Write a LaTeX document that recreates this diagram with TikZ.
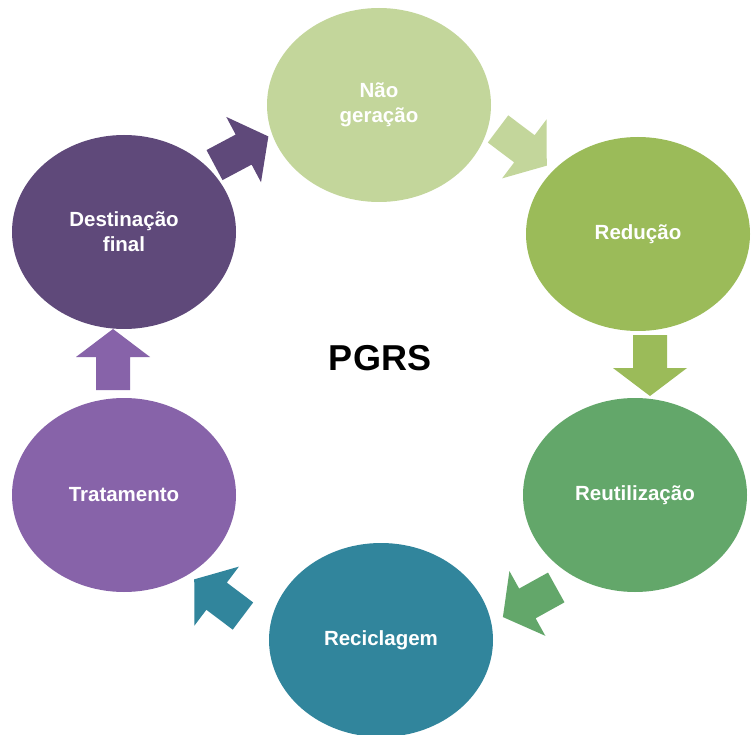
\documentclass[tikz,border=0pt]{standalone}
\usepackage{fontspec}
\setmainfont{Liberation Sans}
\usetikzlibrary{shapes.geometric}
\definecolor{cA}{HTML}{C3D69B}
\definecolor{cB}{HTML}{9BBB59}
\definecolor{cC}{HTML}{63A76A}
\definecolor{cD}{HTML}{31859C}
\definecolor{cE}{HTML}{8763A9}
\definecolor{cF}{HTML}{5F497A}
\tikzset{
  blob/.style={ellipse, minimum width=224pt, minimum height=194pt, inner sep=0pt,
    text=white, align=center, font=\fontsize{20.5}{25}\selectfont\bfseries},
  pics/blockarrow/.style={code={
    \fill[pic actions] (-30,-17) -- (3,-17) -- (3,-37) -- (31,0) -- (3,37) -- (3,17) -- (-30,17) -- cycle;}}
}
\begin{document}
\begin{tikzpicture}[x=1pt,y=-1pt]
\useasboundingbox (0,0) rectangle (755,735);
\fill[white] (0,0) rectangle (755,735);
\node[blob, fill=cA] (nao) at (379,105) {Não\\geração};
\node[blob, fill=cB] (red) at (638,234) {Redução};
\node[blob, fill=cC] (reu) at (635,495) {Reutilização};
\node[blob, fill=cD] (rec) at (381,640) {Reciclagem};
\node[blob, fill=cE] (tra) at (124,495) {Tratamento};
\node[blob, fill=cF] (des) at (124,232) {Destinação\\final};
\node[font=\fontsize{36}{40}\selectfont\bfseries] (pgrs) at (380,358) {PGRS};
\pic[fill=cF, rotate=28] (a1) at (241,151) {blockarrow};
\pic[fill=cA, rotate=-37] (a2) at (522,147) {blockarrow};
\pic[fill=cB, rotate=-90] (a3) at (650,365) {blockarrow};
\pic[fill=cC, rotate=-151] (a4) at (530,602) {blockarrow};
\pic[fill=cD, rotate=143] (a5) at (219,598) {blockarrow};
\pic[fill=cE, rotate=90] (a6) at (113,360) {blockarrow};
\end{tikzpicture}
\end{document}
